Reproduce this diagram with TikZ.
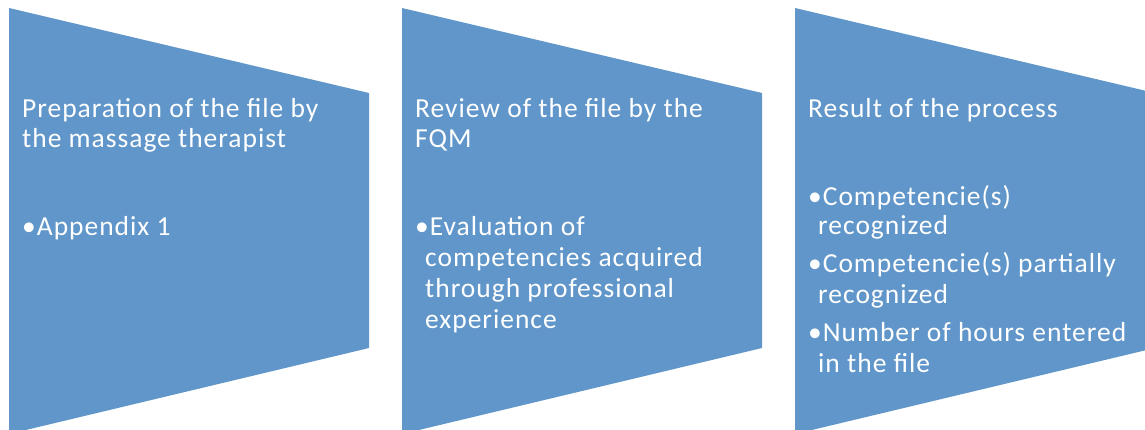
\documentclass[tikz,border=0pt]{standalone}
\usepackage{fontspec}
\setmainfont{Carlito}[LetterSpace=3.6]
\definecolor{stepblue}{HTML}{6096C9}
\begin{document}
\begin{tikzpicture}[x=1pt,y=-1pt,
  panel/.style={fill=stepblue,draw=none},
  txt/.style={anchor=base west,inner sep=0pt,text=white,font=\fontsize{27.5}{30}\selectfont}]
\useasboundingbox[fill=white] (0,0) rectangle (1145,429);
\clip (0,0) rectangle (1145,429);
% three funnel panels
\path[panel] (9,8) -- (369,93) -- (369,348) -- (9,434) -- cycle;
\path[panel] (402,8) -- (762,93) -- (762,348) -- (402,434) -- cycle;
\path[panel] (795,8) -- (1155,93) -- (1155,348) -- (795,434) -- cycle;
% panel 1
\node[txt] (a1) at (22,117) {Preparation of the file by};
\node[txt] (a2) at (22,147) {the massage therapist};
\node[txt] (a3) at (22,235) {•Appendix 1};
% panel 2
\node[txt] (b1) at (415,117) {Review of the file by the};
\node[txt] (b2) at (415,147) {FQM};
\node[txt] (b3) at (415,235) {•Evaluation of};
\node[txt] (b4) at (425,266) {competencies acquired};
\node[txt] (b5) at (425,297) {through professional};
\node[txt] (b6) at (425,328) {experience};
% panel 3
\node[txt] (c1) at (808,117) {Result of the process};
\node[txt] (c2) at (808,205) {•Competencie(s)};
\node[txt] (c3) at (818,234) {recognized};
\node[txt] (c4) at (808,272) {•Competencie(s) partially};
\node[txt] (c5) at (818,303) {recognized};
\node[txt] (c6) at (808,341) {•Number of hours entered};
\node[txt] (c7) at (818,372) {in the file};
\end{tikzpicture}
\end{document}
